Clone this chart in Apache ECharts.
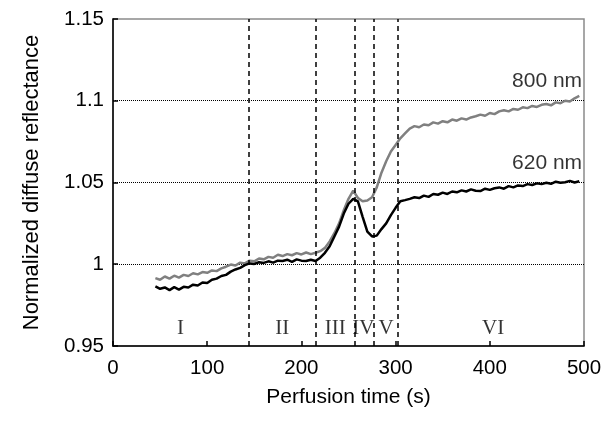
<!DOCTYPE html>
<html><head><meta charset="utf-8">
<script src="https://cdn.jsdelivr.net/npm/echarts@6/dist/echarts.min.js"></script>
<style>html,body{margin:0;padding:0;background:#fff;}#c{width:611px;height:435px;}</style>
</head><body><div id="c"></div>
<script>
var times = [45,50,55,60,65,70,75,80,85,90,95,100,105,110,115,120,125,130,135,140,145,150,155,160,165,170,175,180,185,190,195,200,205,210,215,220,225,230,235,240,245,250,255,260,265,270,275,280,285,290,295,300,305,310,315,320,325,330,335,340,345,350,355,360,365,370,375,380,385,390,395,400,405,410,415,420,425,430,435,440,445,450,455,460,465,470,475,480,485,490,495];
var nm620 = [0.9865,0.9850,0.9858,0.9842,0.9860,0.9845,0.9862,0.9858,0.9875,0.9870,0.9888,0.9885,0.9905,0.9912,0.9928,0.9935,0.9955,0.9968,0.9978,0.9995,1.0005,1.0002,1.0012,1.0008,1.0018,1.0010,1.0022,1.0020,1.0028,1.0015,1.0030,1.0022,1.0020,1.0028,1.0020,1.0040,1.0070,1.0110,1.0170,1.0230,1.0310,1.0370,1.0400,1.0385,1.0290,1.0200,1.0170,1.0175,1.0215,1.0250,1.0300,1.0345,1.0385,1.0392,1.0400,1.0410,1.0405,1.0420,1.0412,1.0430,1.0425,1.0438,1.0430,1.0445,1.0440,1.0452,1.0445,1.0458,1.0450,1.0448,1.0462,1.0455,1.0465,1.0470,1.0462,1.0478,1.0470,1.0482,1.0478,1.0490,1.0485,1.0495,1.0490,1.0498,1.0492,1.0505,1.0498,1.0502,1.0510,1.0500,1.0508];
var nm800 = [0.9915,0.9905,0.9925,0.9912,0.9930,0.9918,0.9935,0.9928,0.9945,0.9938,0.9952,0.9948,0.9962,0.9958,0.9975,0.9985,0.9998,0.9992,1.0010,1.0005,1.0022,1.0018,1.0035,1.0030,1.0045,1.0040,1.0058,1.0050,1.0062,1.0055,1.0068,1.0060,1.0072,1.0062,1.0070,1.0080,1.0100,1.0140,1.0190,1.0250,1.0330,1.0400,1.0450,1.0405,1.0385,1.0390,1.0410,1.0470,1.0560,1.0630,1.0690,1.0730,1.0770,1.0800,1.0830,1.0845,1.0838,1.0855,1.0850,1.0868,1.0860,1.0875,1.0868,1.0885,1.0878,1.0892,1.0885,1.0898,1.0905,1.0915,1.0908,1.0925,1.0918,1.0935,1.0942,1.0935,1.0950,1.0945,1.0960,1.0955,1.0968,1.0962,1.0975,1.0980,1.0972,1.0990,1.0985,1.1000,1.0995,1.1015,1.1030];
var phaseBounds = [144, 215, 257, 276.5, 302];
var phaseNames = ['I','II','III','IV','V','VI'];
var phaseCenters = [71.6, 179.7, 236, 265.7, 290, 403.5];
var phaseLabelY = 0.9607;
var seriesNames = ['800 nm','620 nm'];
var seriesLabelX = [498, 498];
var seriesLabelY = [1.112, 1.062];
var yTickLabels = {'0.95':'0.95','1':'1','1.05':'1.05','1.1':'1.1','1.15':'1.15'};

function pairs(xs, ys){ return xs.map(function(x,i){ return [x, ys[i]]; }); }

var chart = echarts.init(document.getElementById('c'), null, {renderer:'canvas'});
var font = 'Liberation Sans, Arial, sans-serif';
chart.setOption({
  animation:false,
  grid:{left:113, top:19, width:471, height:327, show:true, borderColor:'#8a8a8a', borderWidth:1.5, backgroundColor:'transparent'},
  xAxis:{type:'value', min:0, max:500, interval:100,
    name:'Perfusion time (s)', nameLocation:'middle', nameGap:41,
    nameTextStyle:{fontFamily:font, fontSize:21, color:'#000'},
    axisLine:{show:true, lineStyle:{color:'#000', width:1.5}},
    axisTick:{show:true, inside:true, length:5, lineStyle:{color:'#000', width:1.5}},
    axisLabel:{fontFamily:font, fontSize:20.5, color:'#000', margin:12},
    splitLine:{show:false}},
  yAxis:{type:'value', min:0.95, max:1.15, interval:0.05,
    name:'Normalized diffuse reflectance', nameLocation:'middle', nameGap:70,
    nameTextStyle:{fontFamily:font, fontSize:22, color:'#000'},
    axisLine:{show:true, lineStyle:{color:'#000', width:1.5}},
    axisTick:{show:true, inside:true, length:5, lineStyle:{color:'#000', width:1.5}},
    axisLabel:{fontFamily:font, fontSize:20.5, color:'#000', margin:9,
      formatter:function(v){ var k = String(parseFloat(v.toFixed(2))); return yTickLabels[k] !== undefined ? yTickLabels[k] : k; }},
    splitLine:{show:true, showMinLine:false, showMaxLine:false, lineStyle:{color:'#000', width:1, type:[1,1]}}},
  series:[
    {name:seriesNames[0], type:'line', data:pairs(times, nm800), showSymbol:false, symbol:'none',
      lineStyle:{color:'#808080', width:2.5}, z:3,
      markLine:{silent:true, symbol:'none', label:{show:false},
        lineStyle:{color:'#000', width:1.5, type:[5,4]},
        data:phaseBounds.map(function(b){ return {xAxis:b}; })}},
    {name:seriesNames[1], type:'line', data:pairs(times, nm620), showSymbol:false, symbol:'none',
      lineStyle:{color:'#000', width:2.5}, z:4},
    {type:'scatter', symbolSize:0, z:5,
      data:phaseNames.map(function(n,i){ return {value:[phaseCenters[i], phaseLabelY], name:n}; }),
      label:{show:true, position:'inside', formatter:'{b}', fontFamily:'Liberation Serif, Times New Roman, serif', fontSize:21, color:'#000'}},
    {type:'scatter', symbolSize:0, z:5,
      data:seriesNames.map(function(n,i){ return {value:[seriesLabelX[i], seriesLabelY[i]], name:n}; }),
      label:{show:true, position:'left', distance:0, formatter:'{b}', fontFamily:font, fontSize:21, color:'#000'}}
  ]
});
</script></body></html>
